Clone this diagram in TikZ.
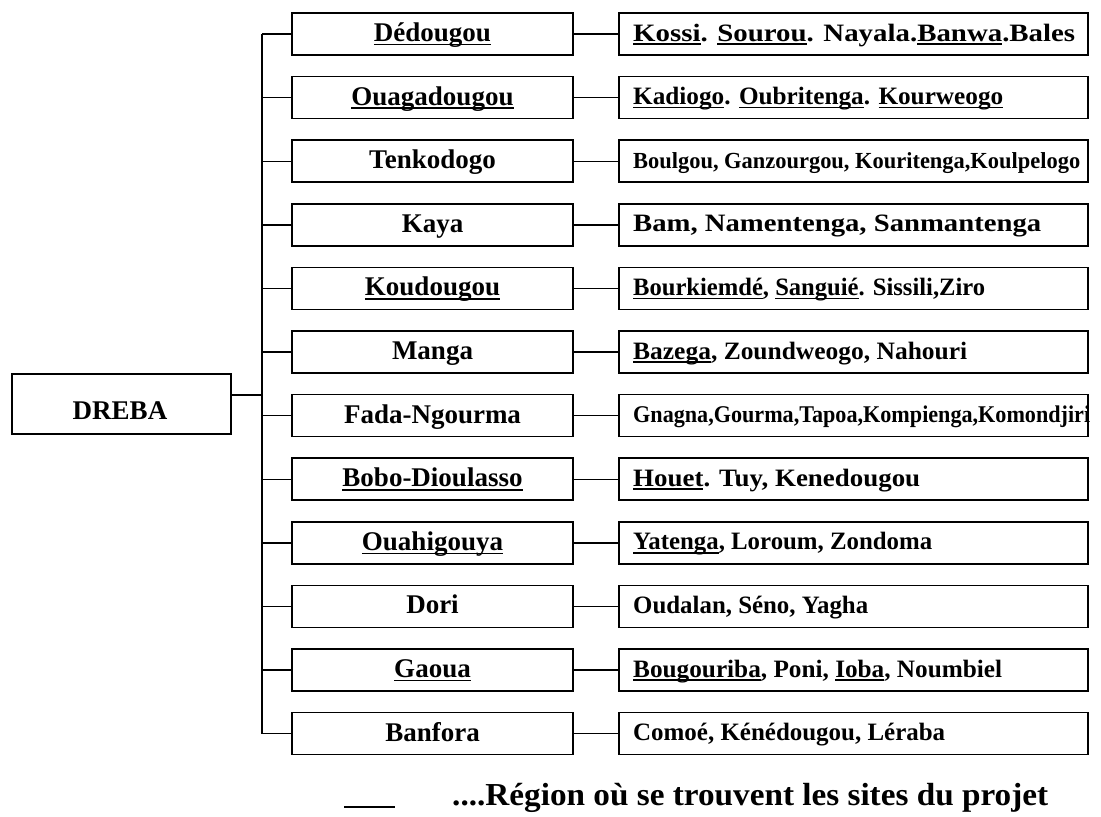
\documentclass[tikz,border=0pt]{standalone}
\usepackage{fontspec}
\setmainfont{Liberation Serif}
\usepackage{graphicx}
\newcommand\undl[1]{\setbox0\hbox{#1}\rlap{\vrule height -2.2pt depth 3.8pt width \wd0}\box0}
\newcommand\drow[5]{%
  \pgfmathsetmacro\yy{34+63.6*#1}
  \node[mbox] (m#1) at (432.5,\yy) {};
  \node[lab] (mt#1) at (432.5,\yy+7.5) {#2};
  \node[rbox] (r#1) at (853.5,\yy) {};
  \node[rlab] (rt#1) at (633,\yy+7) {\resizebox{#3pt}{\height}{\fontsize{#4}{#4}\selectfont #5}};
  \draw[conn] (m#1.east) -- (r#1.west);
  \draw[conn] (m#1.west) -- (m#1.west -| tr);
}
\begin{document}
\begin{tikzpicture}[x=1pt,y=-1pt,
  mbox/.style={draw, line width=1.6pt, inner sep=0pt, minimum width=281pt, minimum height=42pt},
  rbox/.style={draw, line width=1.6pt, inner sep=0pt, minimum width=469pt, minimum height=42pt},
  dbox/.style={draw, line width=1.6pt, inner sep=0pt, minimum width=219pt, minimum height=60pt},
  lab/.style={inner sep=0pt, anchor=base, font=\bfseries\fontsize{27}{30}\selectfont},
  rlab/.style={inner sep=0pt, anchor=base west, font=\bfseries},
  conn/.style={line width=1.4pt},
  trunkline/.style={line width=2.4pt}]
\fill[white] (0,0) rectangle (1101,817);
\useasboundingbox (0,0) rectangle (1101,817);
\coordinate (tr) at (262,0);
\drow{0}{\undl{Dédougou}}{442}{25}{\undl{Kossi}. \undl{Sourou}. Nayala.\undl{Banwa}.Bales}
\drow{1}{\undl{Ouagadougou}}{370}{25}{\undl{Kadiogo}. \undl{Oubritenga}. \undl{Kourweogo}}
\drow{2}{Tenkodogo}{447}{23}{Boulgou, Ganzourgou, Kouritenga,Koulpelogo}
\drow{3}{Kaya}{408}{25}{Bam, Namentenga, Sanmantenga}
\drow{4}{\undl{Koudougou}}{352}{25}{\undl{Bourkiemdé}, \undl{Sanguié}. Sissili,Ziro}
\drow{5}{Manga}{334}{25}{\undl{Bazega}, Zoundweogo, Nahouri}
\drow{6}{Fada-Ngourma}{457}{24}{Gnagna,Gourma,Tapoa,Kompienga,Komondjiri}
\drow{7}{\undl{Bobo-Dioulasso}}{287}{25}{\undl{Houet}. Tuy, Kenedougou}
\drow{8}{\undl{Ouahigouya}}{299}{25}{\undl{Yatenga}, Loroum, Zondoma}
\drow{9}{Dori}{235}{25}{Oudalan, Séno, Yagha}
\drow{10}{\undl{Gaoua}}{369}{25}{\undl{Bougouriba}, Poni, \undl{Ioba}, Noumbiel}
\drow{11}{Banfora}{312}{25}{Comoé, Kénédougou, Léraba}
\draw[trunkline] (m0.west -| tr) -- (m11.west -| tr);
\node[dbox] (dreba) at (121.5,404) {};
\node[lab] (dt) at (120,419) {DREBA};
\coordinate (dc) at ([yshift=9pt]dreba.east);
\draw[conn] (dc) -- (dc -| tr);
\coordinate (la) at (344,807);
\coordinate (lb) at (395,807);
\draw[line width=1.8pt] (la) -- (lb);
\node[inner sep=0pt, anchor=base west] (leg) at (452,805) {\resizebox{596pt}{\height}{\bfseries\fontsize{32}{34}\selectfont ....Région où se trouvent les sites du projet}};
\end{tikzpicture}
\end{document}
